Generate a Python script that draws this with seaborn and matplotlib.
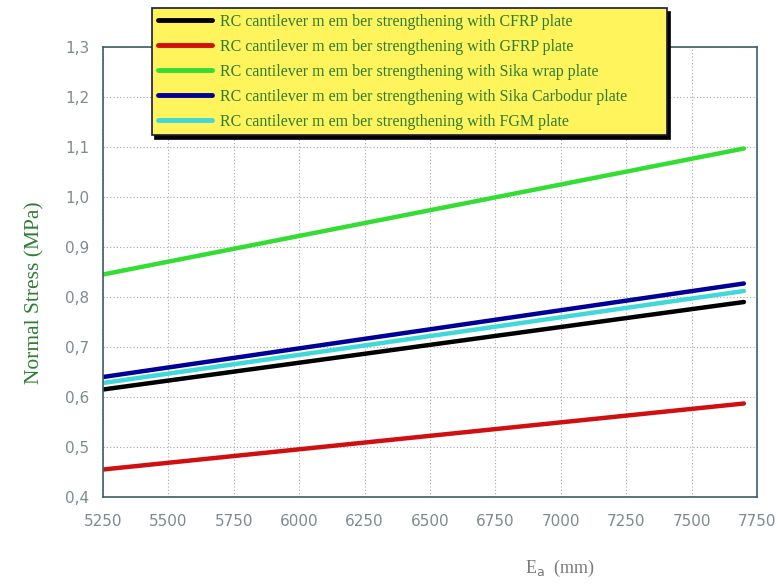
import matplotlib
matplotlib.use("Agg")
import matplotlib.pyplot as plt
import seaborn as sns
import pandas as pd
from matplotlib.ticker import FuncFormatter, MultipleLocator
from matplotlib.lines import Line2D

# ---- data ----
x_vals = [5250, 7700]
cfrp = [0.615, 0.790]
gfrp = [0.455, 0.587]
sika_wrap = [0.845, 1.097]
sika_carbodur = [0.640, 0.827]
fgm = [0.628, 0.812]

labels = [
    "RC cantilever m em ber strengthening with CFRP plate",
    "RC cantilever m em ber strengthening with GFRP plate",
    "RC cantilever m em ber strengthening with Sika wrap plate",
    "RC cantilever m em ber strengthening with Sika Carbodur plate",
    "RC cantilever m em ber strengthening with FGM plate",
]
series = [cfrp, gfrp, sika_wrap, sika_carbodur, fgm]
colors = ["#000000", "#D01010", "#33DD33", "#000099", "#40D8D8"]

x_ticks = [5250, 5500, 5750, 6000, 6250, 6500, 6750, 7000, 7250, 7500, 7750]

rows = []
for lab, ys in zip(labels, series):
    for xv, yv in zip(x_vals, ys):
        rows.append({"x": xv, "y": yv, "series": lab})
df = pd.DataFrame(rows)

sns.set_style("white")
plt.rcParams["font.family"] = ["DejaVu Sans"]

fig = plt.figure(figsize=(7.8, 5.84), dpi=100)
ax = fig.add_axes([103 / 780, 1 - 497 / 584, (757 - 103) / 780, (497 - 47) / 584])

sns.lineplot(data=df, x="x", y="y", hue="series", hue_order=labels,
             palette=dict(zip(labels, colors)), linewidth=3.2, ax=ax, legend=False)

ax.set_xlim(5250, 7750)
ax.set_ylim(0.4, 1.3)
ax.set_xticks(x_ticks)
ax.yaxis.set_major_locator(MultipleLocator(0.1))
ax.yaxis.set_major_formatter(FuncFormatter(lambda v, p: f"{v:.1f}".replace(".", ",")))
ax.grid(True, linestyle=(0, (1, 2)), color="#a8a8a8", linewidth=0.8)
ax.tick_params(axis="both", direction="in", length=5, width=0.8, color="#3b5660",
               labelcolor="#7f8b8f", labelsize=11)
ax.tick_params(axis="x", pad=12)
ax.tick_params(axis="y", pad=10)
for s in ax.spines.values():
    s.set_color("#3b5e66")
    s.set_linewidth(1.2)
ax.set_xlabel("")
ax.set_ylabel("")

# legend
handles = [Line2D([0], [0], color=c, linewidth=3.5) for c in colors]
leg = fig.legend(handles, labels, loc="upper left",
                 bbox_to_anchor=(152 / 780, 1 - 14 / 584, (667 - 152) / 780, 0.01),
                 bbox_transform=fig.transFigure, mode="expand",
                 prop={"family": "Liberation Serif", "size": 11.5},
                 labelcolor="#2E7D32", frameon=True, fancybox=False,
                 handlelength=3.4, handletextpad=0.5, labelspacing=0.56,
                 borderaxespad=0, borderpad=0.35,
                 shadow={"color": "black", "alpha": 1.0, "ox": 2, "oy": -3})
frame = leg.get_frame()
frame.set_facecolor("#FFF45C")
frame.set_edgecolor("#1a1a40")
frame.set_linewidth(1.2)
frame.set_alpha(1)

fig.text(35 / 780, 1 - 293 / 584, "Normal Stress (MPa)", rotation=90,
         ha="center", va="center", color="#2E7D32",
         family="Liberation Serif", fontsize=15.5)
fig.text(560 / 780, 1 - 568 / 584, r"E$_{\rm a}$  (mm)", ha="center", va="center",
         color="#7a7a7a", family="Liberation Serif", fontsize=13)

fig.savefig("out.png", dpi=100, facecolor="white")
